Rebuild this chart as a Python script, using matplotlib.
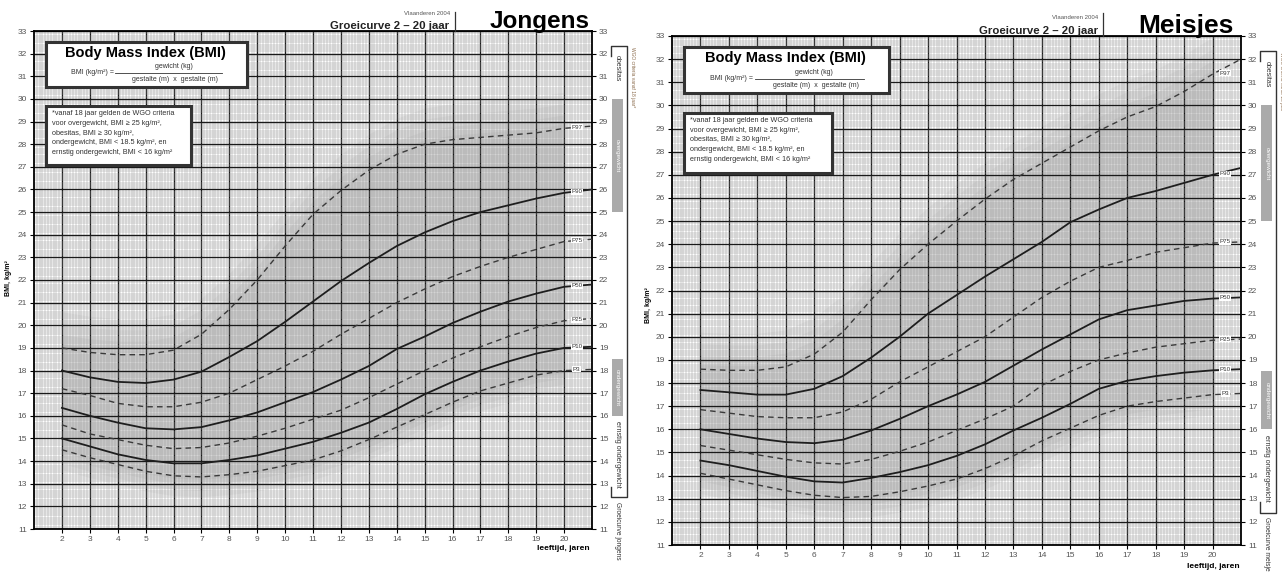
import matplotlib.pyplot as plt
from matplotlib.patches import Rectangle
from matplotlib.ticker import MultipleLocator

plt.rcParams['font.family'] = ['Liberation Sans', 'DejaVu Sans']

# leeftijd in jaren (21 = rechterrand van het rooster)
leeftijd = [2, 3, 4, 5, 6, 7, 8, 9, 10, 11, 12, 13, 14, 15, 16, 17, 18, 19, 20, 21]

jongens_p97 = [19.0, 18.8, 18.7, 18.7, 18.9, 19.6, 20.7, 22.0, 23.5, 24.9, 25.95, 26.85, 27.55, 28.0, 28.2, 28.3, 28.4, 28.5, 28.7, 28.8]
jongens_p90 = [18.0, 17.7, 17.5, 17.45, 17.6, 17.95, 18.6, 19.3, 20.15, 21.05, 21.95, 22.75, 23.5, 24.1, 24.6, 25.0, 25.3, 25.6, 25.85, 26.0]
jongens_p75 = [17.2, 16.9, 16.55, 16.4, 16.4, 16.6, 17.0, 17.6, 18.2, 18.85, 19.6, 20.3, 21.0, 21.6, 22.15, 22.6, 23.0, 23.35, 23.7, 23.8]
jongens_p50 = [16.35, 16.0, 15.7, 15.45, 15.4, 15.5, 15.8, 16.15, 16.6, 17.05, 17.6, 18.2, 18.95, 19.5, 20.1, 20.6, 21.05, 21.4, 21.7, 21.8]
jongens_p25 = [15.6, 15.2, 14.95, 14.7, 14.55, 14.6, 14.8, 15.1, 15.45, 15.85, 16.25, 16.8, 17.4, 18.0, 18.55, 19.05, 19.5, 19.9, 20.2, 20.3]
jongens_p10 = [15.0, 14.65, 14.3, 14.05, 13.9, 13.9, 14.05, 14.25, 14.55, 14.85, 15.25, 15.7, 16.3, 16.95, 17.5, 18.0, 18.4, 18.75, 19.0, 19.05]
jongens_p3 = [14.5, 14.15, 13.85, 13.55, 13.35, 13.3, 13.4, 13.55, 13.8, 14.05, 14.45, 14.95, 15.5, 16.05, 16.6, 17.1, 17.45, 17.8, 18.0, 18.05]

meisjes_p97 = [18.6, 18.55, 18.55, 18.7, 19.25, 20.2, 21.6, 22.9, 24.0, 25.0, 25.95, 26.8, 27.5, 28.2, 28.9, 29.5, 29.95, 30.6, 31.35, 32.0]
meisjes_p90 = [17.7, 17.6, 17.5, 17.5, 17.75, 18.3, 19.1, 20.0, 21.0, 21.8, 22.6, 23.35, 24.1, 24.95, 25.5, 26.0, 26.3, 26.65, 27.0, 27.3]
meisjes_p75 = [16.85, 16.7, 16.55, 16.5, 16.5, 16.75, 17.3, 18.05, 18.7, 19.35, 20.0, 20.85, 21.7, 22.4, 23.0, 23.3, 23.65, 23.85, 24.05, 24.1]
meisjes_p50 = [16.0, 15.8, 15.6, 15.45, 15.4, 15.55, 15.95, 16.45, 17.0, 17.5, 18.05, 18.75, 19.45, 20.1, 20.75, 21.15, 21.35, 21.55, 21.65, 21.7]
meisjes_p25 = [15.3, 15.1, 14.9, 14.7, 14.55, 14.5, 14.7, 15.05, 15.45, 15.95, 16.45, 17.0, 17.9, 18.5, 19.0, 19.3, 19.55, 19.7, 19.85, 19.9]
meisjes_p10 = [14.65, 14.45, 14.2, 13.95, 13.75, 13.7, 13.9, 14.15, 14.45, 14.85, 15.35, 15.95, 16.5, 17.1, 17.75, 18.1, 18.3, 18.45, 18.55, 18.6]
meisjes_p3 = [14.1, 13.85, 13.6, 13.35, 13.15, 13.05, 13.1, 13.3, 13.55, 13.85, 14.3, 14.85, 15.5, 16.05, 16.6, 17.0, 17.2, 17.35, 17.5, 17.55]

namen = ['P97', 'P90', 'P75', 'P50', 'P25', 'P10', 'P3']
jongens = [jongens_p97, jongens_p90, jongens_p75, jongens_p50, jongens_p25, jongens_p10, jongens_p3]
meisjes = [meisjes_p97, meisjes_p90, meisjes_p75, meisjes_p50, meisjes_p25, meisjes_p10, meisjes_p3]

W, H = 1282, 572
fig = plt.figure(figsize=(W / 100, H / 100), dpi=100)


def px(x, y):
    return x / W, 1 - y / H


def rooster(ax, reeksen):
    ax.set_xlim(1, 21)
    ax.set_ylim(11, 33)
    ax.set_xticks(range(2, 21))
    ax.set_yticks(range(11, 34))
    ax.xaxis.set_minor_locator(MultipleLocator(0.1))
    ax.yaxis.set_minor_locator(MultipleLocator(0.1))
    ax.grid(which='minor', color='#9c9c9c', lw=0.35)
    ax.grid(which='major', color='#1a1a1a', lw=1.0)
    ax.tick_params(which='minor', length=0)
    ax.tick_params(which='major', length=3, width=0.8, labelsize=6, labelcolor='#555555',
                   right=True, labelright=True, pad=2)
    for s in ax.spines.values():
        s.set_linewidth(1.3)

    # grijze wolk rond de percentielen
    p3, p97 = reeksen[-1], reeksen[0]
    for m in [1.6, 1.1, 0.6, 0.2]:
        ax.fill_between(leeftijd[:-1], [v - 0.55 * m for v in p3[:-1]], [v + m for v in p97[:-1]],
                        color='black', alpha=0.045, lw=0, zorder=0.5)

    i20 = leeftijd.index(20)
    for naam, waarden in zip(namen, reeksen):
        if naam in ('P90', 'P50', 'P10'):
            ax.plot(leeftijd, waarden, color='#1e1e1e', lw=1.3, zorder=4)
        else:
            ax.plot(leeftijd, waarden, color='#3a3a3a', lw=1.0, ls=(0, (4, 3)), zorder=4)
        ax.text(20.45, waarden[i20] + 0.05, naam, fontsize=4.5, color='#333333', ha='center', va='center',
                zorder=6, bbox=dict(fc='white', ec='none', pad=0.4))

    # kaders met uitleg
    ax.add_patch(Rectangle((1.43, 30.53), 7.2, 1.98, fc='white', ec='#333333', lw=2.2, zorder=5))
    ax.text(5.0, 32.03, 'Body Mass Index (BMI)', fontsize=10.5, weight='bold', ha='center', va='center', zorder=6)
    ax.text(3.85, 31.17, 'BMI (kg/m²) =', fontsize=5, ha='right', va='center', color='#333333', zorder=6)
    ax.plot([3.9, 7.75], [31.15, 31.15], color='#333333', lw=0.6, zorder=6)
    ax.text(6.0, 31.42, 'gewicht (kg)', fontsize=5, ha='center', va='center', color='#333333', zorder=6)
    ax.text(6.05, 30.84, 'gestalte (m)  x  gestalte (m)', fontsize=5, ha='center', va='center',
            color='#333333', zorder=6)

    ax.add_patch(Rectangle((1.43, 27.08), 5.2, 2.61, fc='white', ec='#333333', lw=2.2, zorder=5))
    ax.text(1.65, 29.5, '*vanaf 18 jaar gelden de WGO criteria\n'
                        'voor overgewicht, BMI ≥ 25 kg/m²,\n'
                        'obesitas, BMI ≥ 30 kg/m²,\n'
                        'ondergewicht, BMI < 18.5 kg/m², en\n'
                        'ernstig ondergewicht, BMI < 16 kg/m²',
            fontsize=5.2, va='top', ha='left', color='#333333', linespacing=1.55, zorder=6)


def strook(ax, titel):
    tr = ax.get_yaxis_transform()
    xl, xr, xm = 1.034, 1.062, 1.0455
    ax.plot([xl, xl, xr, xr, xl, xl], [31.9, 32.35, 32.35, 12.4, 12.4, 12.85], transform=tr,
            clip_on=False, color='#333333', lw=1.0)
    ax.add_patch(Rectangle((1.036, 25), 0.019, 5, transform=tr, fc='#aaaaaa', ec='none', clip_on=False))
    ax.add_patch(Rectangle((1.036, 16), 0.019, 2.5, transform=tr, fc='#aaaaaa', ec='none', clip_on=False))
    ax.text(xm, 27.5, 'overgewicht', transform=tr, rotation=270, fontsize=4.5, color='white',
            ha='center', va='center')
    ax.text(xm, 17.25, 'ondergewicht', transform=tr, rotation=270, fontsize=4.5, color='white',
            ha='center', va='center')
    ax.text(xm, 31.35, 'obesitas', transform=tr, rotation=270, fontsize=5, color='#333333',
            ha='center', va='center')
    ax.text(xm, 14.3, 'ernstig ondergewicht', transform=tr, rotation=270, fontsize=5.2, color='#333333',
            ha='center', va='center')
    ax.text(xm, 12.2, titel, transform=tr, rotation=270, fontsize=4.8, color='#333333',
            ha='center', va='top')
    ax.text(1.072, 32.3, 'WGO criteria vanaf 18 jaar*', transform=tr, rotation=270, fontsize=3.5,
            color='#8a6a4a', ha='center', va='top')


ax_j = fig.add_axes([34 / W, 1 - 529 / H, (592 - 34) / W, (529 - 31) / H])
ax_m = fig.add_axes([672 / W, 1 - 545 / H, (1241 - 672) / W, (545 - 36) / H])

rooster(ax_j, jongens)
rooster(ax_m, meisjes)
strook(ax_j, 'Groeicurve jongens')
strook(ax_m, 'Groeicurve meisjes')

# koppen
fig.text(*px(490, 28), 'Jongens', fontsize=17.5, weight='bold', ha='left', va='baseline')
fig.text(*px(449, 29), 'Groeicurve 2 – 20 jaar', fontsize=8.2, weight='bold', ha='right', va='baseline',
         color='#222222')
fig.text(*px(450, 15), 'Vlaanderen 2004', fontsize=4.3, ha='right', va='baseline', color='#555555')
fig.add_artist(plt.Line2D([455 / W, 455 / W], [1 - 12 / H, 1 - 31 / H], color='#333333', lw=0.9))

fig.text(*px(1138, 33), 'Meisjes', fontsize=19, weight='bold', ha='left', va='baseline')
fig.text(*px(1098, 34), 'Groeicurve 2 – 20 jaar', fontsize=8.2, weight='bold', ha='right', va='baseline',
         color='#222222')
fig.text(*px(1098, 19), 'Vlaanderen 2004', fontsize=4.3, ha='right', va='baseline', color='#555555')
fig.add_artist(plt.Line2D([1103 / W, 1103 / W], [1 - 13 / H, 1 - 36 / H], color='#333333', lw=0.9))

# aslabels
fig.text(*px(9, 278), 'BMI, kg/m²', rotation=90, fontsize=5, weight='bold', ha='center', va='center')
fig.text(*px(649, 305), 'BMI, kg/m²', rotation=90, fontsize=5, weight='bold', ha='center', va='center')
fig.text(*px(590, 549), 'leeftijd, jaren', fontsize=6, weight='bold', ha='right', va='center')
fig.text(*px(1240, 566), 'leeftijd, jaren', fontsize=6, weight='bold', ha='right', va='center')

fig.savefig('out.png', dpi=100)
